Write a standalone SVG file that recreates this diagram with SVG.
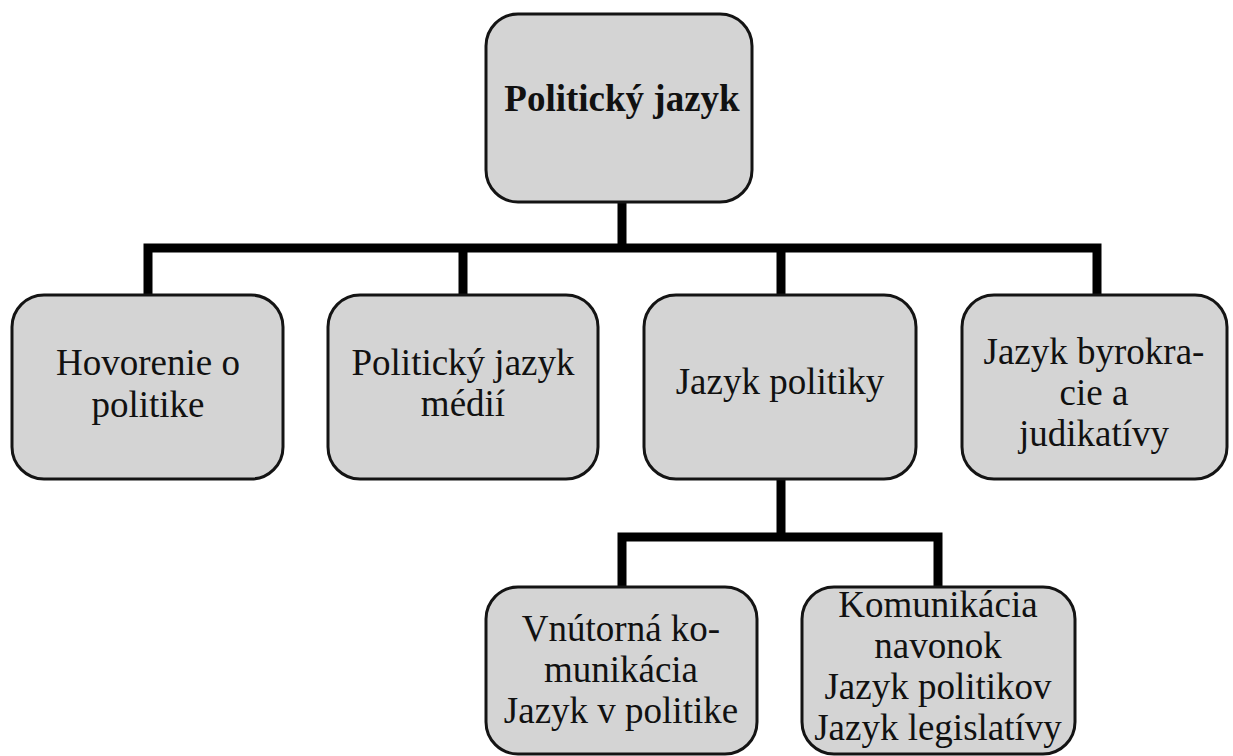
<svg xmlns="http://www.w3.org/2000/svg" width="1233" height="756" viewBox="0 0 1233 756">
<style>
.box{fill:#d4d4d4;stroke:#141414;stroke-width:3}
.t{font-family:"Liberation Serif","DejaVu Serif",serif;font-size:37px;fill:#111;text-anchor:middle}
.b{font-weight:bold;font-size:37px}
.c{fill:none;stroke:#000;stroke-width:9}
</style>
<rect width="1233" height="756" fill="#fff"/>
<g id="connectors">
<path class="c" d="M622,202 V248 M148,295 V248 H1097 V295 M463,248 V295 M781,248 V295"/>
<path class="c" d="M781,479 V537 M622,587 V537 H938 V587"/>
</g>
<g id="n0"><rect class="box" x="486" y="14" width="266" height="188" rx="32"/><text class="t b" x="622" y="111">Politický jazyk</text></g>
<g id="n1"><rect class="box" x="12" y="295" width="271" height="184" rx="32"/><text class="t" x="148" y="375">Hovorenie o</text><text class="t" x="148" y="417">politike</text></g>
<g id="n2"><rect class="box" x="328" y="295" width="270" height="184" rx="32"/><text class="t" x="463" y="375">Politický jazyk</text><text class="t" x="463" y="416">médií</text></g>
<g id="n3"><rect class="box" x="644" y="295" width="272" height="184" rx="32"/><text class="t" x="780" y="394">Jazyk politiky</text></g>
<g id="n4"><rect class="box" x="962" y="295" width="265" height="184" rx="32"/><text class="t" x="1094" y="364">Jazyk byrokra-</text><text class="t" x="1094" y="405">cie a</text><text class="t" x="1094" y="446">judikatívy</text></g>
<g id="n5"><rect class="box" x="486" y="587" width="271" height="167" rx="32"/><text class="t" x="621" y="641">Vnútorná ko-</text><text class="t" x="621" y="682">munikácia</text><text class="t" x="621" y="723">Jazyk v politike</text></g>
<g id="n6"><rect class="box" x="802" y="587" width="273" height="167" rx="32"/><text class="t" x="938" y="617">Komunikácia</text><text class="t" x="938" y="658">navonok</text><text class="t" x="938" y="699">Jazyk politikov</text><text class="t" x="938" y="740">Jazyk legislatívy</text></g>
</svg>
